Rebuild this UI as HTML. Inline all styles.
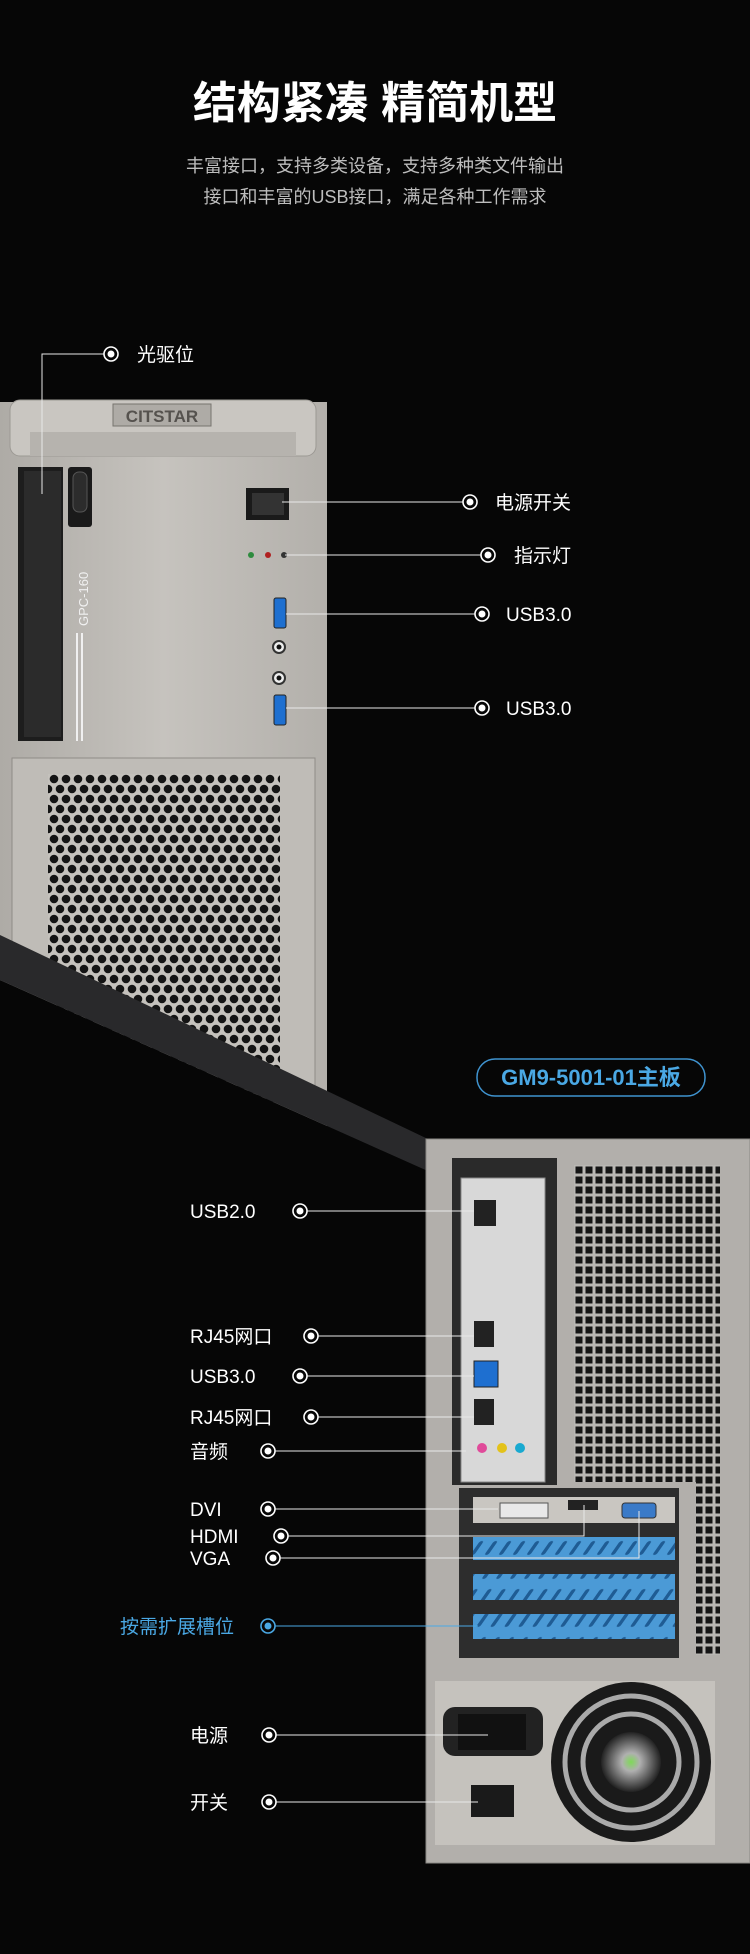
<!DOCTYPE html>
<html><head><meta charset="utf-8"><style>
html,body{margin:0;padding:0;background:#060606;}
svg{display:block;}
text{font-family:"Liberation Sans","Noto Sans CJK SC",sans-serif;}
</style></head><body>
<svg width="750" height="1954" viewBox="0 0 750 1954" xmlns="http://www.w3.org/2000/svg">
<defs>
<pattern id="hex" x="48" y="774" width="12" height="20" patternUnits="userSpaceOnUse">
<rect width="12" height="20" fill="#c4c1bc"/>
<circle cx="6" cy="5" r="4.3" fill="#141414"/><circle cx="0" cy="15" r="4.3" fill="#141414"/><circle cx="12" cy="15" r="4.3" fill="#141414"/>
</pattern>
<pattern id="sq" x="574" y="1165" width="10" height="10" patternUnits="userSpaceOnUse">
<rect width="10" height="10" fill="#b9b7b3"/><rect x="1.5" y="1.5" width="7" height="7" fill="#151515"/>
</pattern>
<pattern id="slash" width="14" height="24" patternUnits="userSpaceOnUse" patternTransform="skewX(-35)">
<rect width="14" height="24" fill="#4b9ad6"/><rect x="5" y="5" width="4" height="14" rx="2" fill="#1f5c94"/>
</pattern>
<linearGradient id="cg" x1="0" x2="1"><stop offset="0" stop-color="#aeaba6"/><stop offset="0.5" stop-color="#c6c3be"/><stop offset="1" stop-color="#b3b0ab"/></linearGradient>
<radialGradient id="fan"><stop offset="0" stop-color="#7ed957"/><stop offset="0.3" stop-color="#b0b0b0"/><stop offset="1" stop-color="#222"/></radialGradient>
</defs>

<text x="375" y="118" text-anchor="middle" fill="#fff" font-size="44" font-weight="bold">结构紧凑 精简机型</text>
<text x="375" y="172" text-anchor="middle" fill="#bdbdbd" font-size="18">丰富接口，支持多类设备，支持多种类文件输出</text>
<text x="375" y="203" text-anchor="middle" fill="#bdbdbd" font-size="18">接口和丰富的USB接口，满足各种工作需求</text>

<!-- Front case -->
<rect x="0" y="402" width="327" height="760" fill="url(#cg)"/>
<rect x="10" y="400" width="306" height="56" rx="10" fill="#c9c6c1" stroke="#9c9994"/>
<rect x="30" y="432" width="266" height="24" fill="#b6b3ae"/>
<rect x="113" y="404" width="98" height="22" fill="#aeaba6" stroke="#77746f"/>
<text x="162" y="422" text-anchor="middle" fill="#55524e" font-size="17" font-weight="bold">CITSTAR</text>
<rect x="18" y="467" width="45" height="274" fill="#1d1d1d"/>
<rect x="24" y="471" width="37" height="266" fill="#2b2b2b"/>
<rect x="68" y="467" width="24" height="60" rx="3" fill="#1a1a1a"/>
<rect x="73" y="472" width="14" height="40" rx="6" fill="#2c2c2c" stroke="#555"/>
<rect x="76" y="548" width="12" height="16" fill="#eee" transform="skewX(-10)"/>
<text transform="translate(88,626) rotate(-90)" fill="#f0f0f0" font-size="13">GPC-160</text>
<rect x="76" y="633" width="2" height="108" fill="#f0f0f0"/><rect x="81" y="633" width="2" height="108" fill="#f0f0f0"/>
<rect x="246" y="488" width="43" height="32" fill="#1a1a1a"/><rect x="252" y="493" width="32" height="22" fill="#333"/>
<circle cx="251" cy="555" r="3" fill="#2e8b3e"/><circle cx="268" cy="555" r="3" fill="#b02020"/><circle cx="284" cy="555" r="3" fill="#333"/>
<rect x="274" y="598" width="12" height="30" rx="2" fill="#1e6fd0" stroke="#222"/>
<circle cx="279" cy="647" r="6" fill="#eee" stroke="#333" stroke-width="2"/><circle cx="279" cy="647" r="2.5" fill="#111"/>
<circle cx="279" cy="678" r="6" fill="#eee" stroke="#333" stroke-width="2"/><circle cx="279" cy="678" r="2.5" fill="#111"/>
<rect x="274" y="695" width="12" height="30" rx="2" fill="#1e6fd0" stroke="#222"/>
<rect x="12" y="758" width="303" height="400" fill="#bfbcb7" stroke="#8f8c87"/>
<rect x="48" y="774" width="232" height="380" fill="url(#hex)"/>

<polygon points="0,980 430,1172 430,1954 0,1954" fill="#060606"/>
<polygon points="0,935 430,1140 430,1172 0,980" fill="#29292b"/>

<rect x="477" y="1059" width="228" height="37" rx="18" fill="none" stroke="#3f93cf" stroke-width="1.5"/>
<text x="591" y="1085" text-anchor="middle" fill="#4aa8e4" font-size="22" font-weight="bold">GM9-5001-01主板</text>

<!-- Rear case -->
<rect x="426" y="1139" width="324" height="724" fill="#b2afab" stroke="#8a8884"/>
<rect x="452" y="1158" width="105" height="327" fill="#2a2a2a"/>
<rect x="574" y="1165" width="146" height="317" fill="url(#sq)"/>
<rect x="696" y="1482" width="24" height="173" fill="url(#sq)"/>
<rect x="461" y="1178" width="84" height="304" fill="#d8d8d8" stroke="#888"/>
<rect x="474" y="1200" width="22" height="26" fill="#222"/>
<rect x="474" y="1321" width="20" height="26" fill="#222"/>
<rect x="474" y="1361" width="24" height="26" fill="#1e6fd0" stroke="#222"/>
<rect x="474" y="1399" width="20" height="26" fill="#222"/>
<circle cx="482" cy="1448" r="5" fill="#e04a9a"/><circle cx="502" cy="1448" r="5" fill="#e3c21a"/><circle cx="520" cy="1448" r="5" fill="#19a9d0"/>
<rect x="459" y="1488" width="220" height="170" fill="#2d2d2d"/>
<rect x="473" y="1497" width="202" height="26" fill="#c9c6c1"/>
<rect x="500" y="1503" width="48" height="15" fill="#e8e8e8" stroke="#555"/>
<rect x="568" y="1500" width="30" height="10" fill="#222"/>
<rect x="622" y="1503" width="34" height="15" rx="3" fill="#3a7ac8" stroke="#333"/>
<rect x="473" y="1537" width="202" height="23" fill="url(#slash)"/>
<rect x="473" y="1574" width="202" height="26" fill="url(#slash)"/>
<rect x="473" y="1614" width="202" height="25" fill="url(#slash)"/>
<rect x="435" y="1681" width="280" height="164" fill="#c5c2bd"/>
<circle cx="631" cy="1762" r="80" fill="#1a1a1a"/>
<circle cx="631" cy="1762" r="66" fill="none" stroke="#aaa" stroke-width="5"/>
<circle cx="631" cy="1762" r="48" fill="none" stroke="#aaa" stroke-width="5"/>
<circle cx="631" cy="1762" r="30" fill="url(#fan)"/>
<rect x="443" y="1707" width="100" height="49" rx="12" fill="#222"/>
<rect x="458" y="1714" width="68" height="36" fill="#111"/>
<rect x="471" y="1785" width="43" height="32" fill="#1a1a1a"/>

<g stroke="#e8e8e8" stroke-width="1" fill="none">
<polyline points="104,354 42,354 42,494"/>
<line x1="282" y1="502" x2="463" y2="502"/>
<line x1="285" y1="555" x2="481" y2="555"/>
<line x1="286" y1="614" x2="475" y2="614"/>
<line x1="286" y1="708" x2="475" y2="708"/>
<line x1="307" y1="1211" x2="474" y2="1211"/>
<line x1="318" y1="1336" x2="474" y2="1336"/>
<line x1="307" y1="1376" x2="474" y2="1376"/>
<line x1="318" y1="1417" x2="474" y2="1417"/>
<line x1="275" y1="1451" x2="466" y2="1451"/>
<line x1="275" y1="1509" x2="498" y2="1509"/>
<polyline points="288,1536 584,1536 584,1505"/>
<polyline points="280,1558 639,1558 639,1511"/>
<line x1="276" y1="1735" x2="488" y2="1735"/>
<line x1="276" y1="1802" x2="478" y2="1802"/>
</g>
<line x1="275" y1="1626" x2="478" y2="1626" stroke="#4aa8e4" stroke-width="1"/>

<g fill="#060606" stroke="#fff" stroke-width="1.6">
<circle cx="111" cy="354" r="7"/><circle cx="470" cy="502" r="7"/><circle cx="488" cy="555" r="7"/>
<circle cx="482" cy="614" r="7"/><circle cx="482" cy="708" r="7"/>
<circle cx="300" cy="1211" r="7"/><circle cx="311" cy="1336" r="7"/><circle cx="300" cy="1376" r="7"/>
<circle cx="311" cy="1417" r="7"/><circle cx="268" cy="1451" r="7"/><circle cx="268" cy="1509" r="7"/>
<circle cx="281" cy="1536" r="7"/><circle cx="273" cy="1558" r="7"/>
<circle cx="269" cy="1735" r="7"/><circle cx="269" cy="1802" r="7"/>
</g>
<circle cx="268" cy="1626" r="7" fill="#060606" stroke="#4aa8e4" stroke-width="1.6"/>
<g fill="#fff">
<circle cx="111" cy="354" r="3.5"/><circle cx="470" cy="502" r="3.5"/><circle cx="488" cy="555" r="3.5"/>
<circle cx="482" cy="614" r="3.5"/><circle cx="482" cy="708" r="3.5"/>
<circle cx="300" cy="1211" r="3.5"/><circle cx="311" cy="1336" r="3.5"/><circle cx="300" cy="1376" r="3.5"/>
<circle cx="311" cy="1417" r="3.5"/><circle cx="268" cy="1451" r="3.5"/><circle cx="268" cy="1509" r="3.5"/>
<circle cx="281" cy="1536" r="3.5"/><circle cx="273" cy="1558" r="3.5"/>
<circle cx="269" cy="1735" r="3.5"/><circle cx="269" cy="1802" r="3.5"/>
</g>
<circle cx="268" cy="1626" r="3.5" fill="#4aa8e4"/>

<g fill="#fff" font-size="19">
<text x="137" y="361">光驱位</text>
<text x="495" y="509">电源开关</text>
<text x="514" y="562">指示灯</text>
<text x="506" y="621">USB3.0</text>
<text x="506" y="715">USB3.0</text>
<text x="190" y="1218">USB2.0</text>
<text x="190" y="1343">RJ45网口</text>
<text x="190" y="1383">USB3.0</text>
<text x="190" y="1424">RJ45网口</text>
<text x="190" y="1458">音频</text>
<text x="190" y="1516">DVI</text>
<text x="190" y="1543">HDMI</text>
<text x="190" y="1565">VGA</text>
<text x="190" y="1742">电源</text>
<text x="190" y="1809">开关</text>
</g>
<text x="120" y="1633" fill="#4aa8e4" font-size="19">按需扩展槽位</text>
</svg>
</body></html>
